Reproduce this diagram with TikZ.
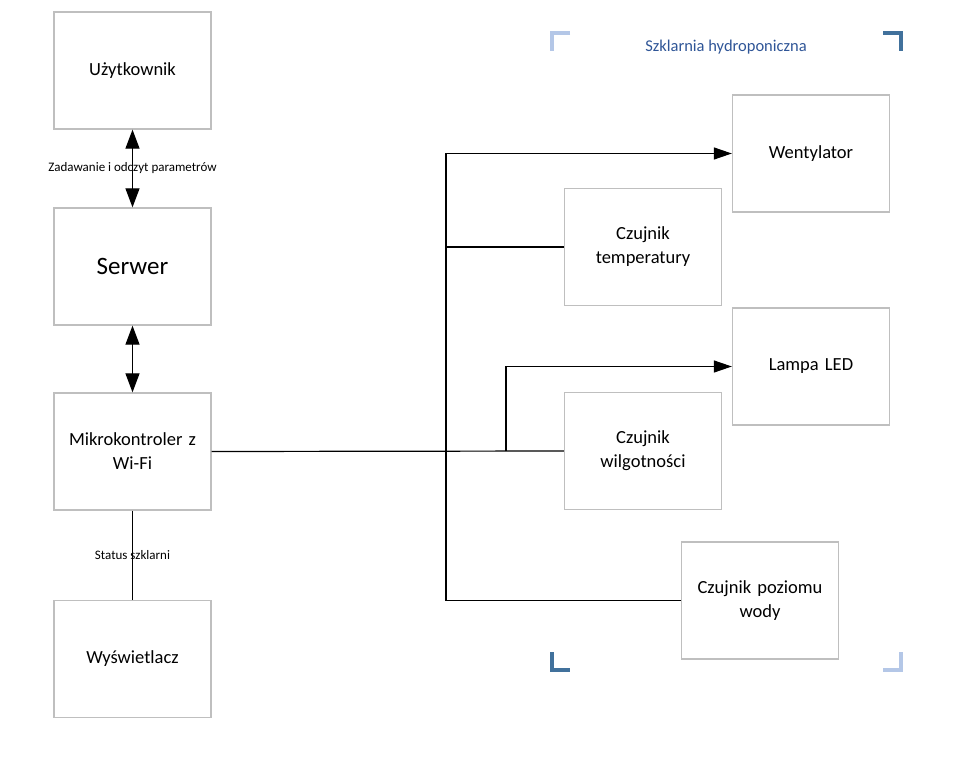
\documentclass[tikz,border=0pt]{standalone}
\usepackage{fontspec}
\setmainfont{Carlito}
\usetikzlibrary{arrows.meta}
\definecolor{boxgray}{HTML}{BFBFBF}
\definecolor{darkblue}{HTML}{41719C}
\definecolor{lightblue}{HTML}{B4C7E7}
\definecolor{titleblue}{HTML}{2F5597}
\begin{document}
\begin{tikzpicture}[x=1pt,y=-1pt,
  block/.style={draw=boxgray,line width=1.3pt,minimum width=157pt,minimum height=117pt,
    align=center,inner sep=2pt,font=\fontsize{18.5}{24}\selectfont,text width=152pt},
  link/.style={line width=1.2pt},
  tip/.style={-{Triangle[length=18pt,width=12pt]}},
  both/.style={{Triangle[length=19pt,width=14pt]}-{Triangle[length=19pt,width=14pt]}},
  lbl/.style={font=\fontsize{13}{15}\selectfont,inner sep=1pt},
  bracket/.style={line width=4pt}]
\useasboundingbox (0,0) rectangle (955,759);
\fill[white] (0,0) rectangle (955,759);

% left column
\node[block] (user) at (132.5,70.5) {Użytkownik};
\node[block,font=\fontsize{25}{30}\selectfont] (server) at (132.5,266.5) {Serwer};
\node[block] (mcu) at (132.5,451.5) {Mikrokontroler z\\Wi-Fi};
\node[block] (disp) at (132.5,659) {Wyświetlacz};

% right side devices
\node[block] (fan) at (811,153.5) {Wentylator};
\node[block] (temp) at (643,247) {Czujnik\\temperatury};
\node[block] (lamp) at (811,366.5) {Lampa LED};
\node[block] (hum) at (643,451) {Czujnik\\wilgotności};
\node[block] (water) at (760,600.5) {Czujnik poziomu\\wody};

% bracket frame with title
\draw[bracket,lightblue] (570,33) -- (552,33) -- (552,51);
\draw[bracket,darkblue] (883,33) -- (901,33) -- (901,51);
\draw[bracket,darkblue] (552,652) -- (552,670) -- (570,670);
\draw[bracket,lightblue] (901,652) -- (901,670) -- (883,670);
\node[font=\fontsize{16.5}{19}\selectfont,text=titleblue] (title) at (726,47) {Szklarnia hydroponiczna};

% left column links
\draw[link,both] (user.south) -- node[lbl] {Zadawanie i odczyt parametrów} (server.north);
\draw[link,both] (server.south) -- (mcu.north);
\draw[link] (mcu.south) -- node[lbl] {Status szklarni} (disp.north);

% bus to devices
\coordinate (bustop) at (446,153.5);
\coordinate (busbot) at (446,600.5);
\coordinate (branch) at (506,451);
\draw[link] (mcu.east) -- (hum.west);
\draw[link] (busbot) -- (bustop);
\draw[link,tip] (bustop) -- (fan.west);
\draw[link] (temp.west) -- (temp.west -| bustop);
\draw[link,tip] (branch) |- (lamp.west);
\draw[link] (busbot) -- (water.west);
\end{tikzpicture}
\end{document}
